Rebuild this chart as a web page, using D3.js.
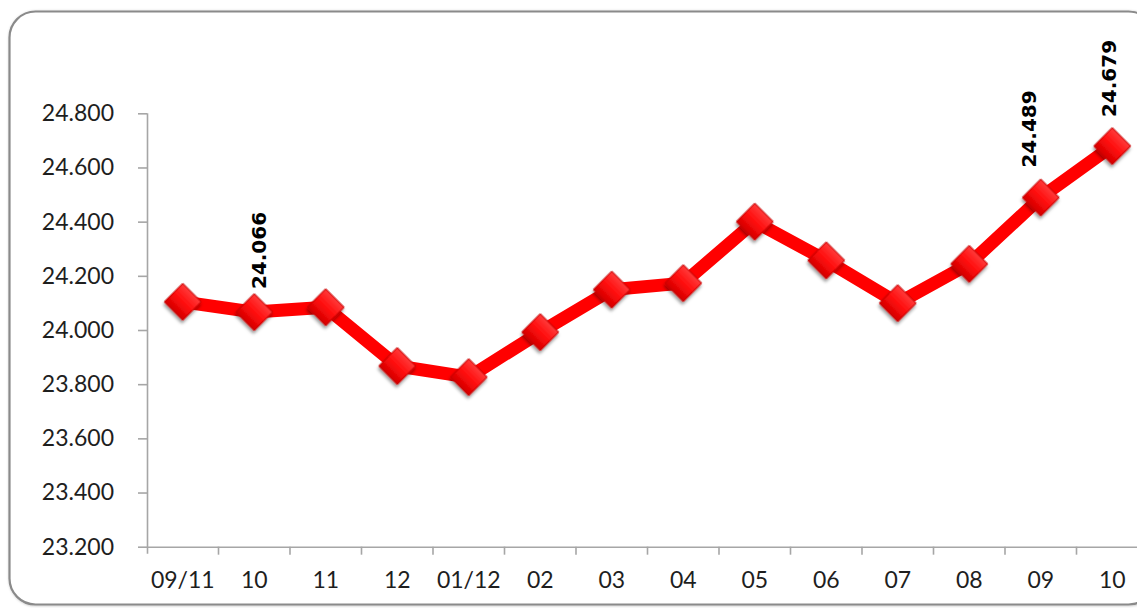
<!DOCTYPE html>
<html>
<head>
<meta charset="utf-8">
<script src="https://cdn.jsdelivr.net/npm/d3@7"></script>
<style>
  html, body { margin: 0; padding: 0; background: #ffffff; }
  svg { display: block; }
</style>
</head>
<body>
<svg id="chart" width="1137" height="608"></svg>
<script>
// ---- data ----
const categories = ["09/11", "10", "11", "12", "01/12", "02", "03", "04", "05", "06", "07", "08", "09", "10 "];
const categoryLabels = ["09/11", "10", "11", "12", "01/12", "02", "03", "04", "05", "06", "07", "08", "09", "10"];
const values = [24.104, 24.066, 24.084, 23.867, 23.826, 23.992, 24.149, 24.173, 24.400, 24.257, 24.099, 24.244, 24.489, 24.679];
const yTicks = [23.2, 23.4, 23.6, 23.8, 24.0, 24.2, 24.4, 24.6, 24.8];
const labelledIndices = [1, 12, 13];
const labelTexts = ["24.066", "24.489", "24.679"];

// ---- layout ----
const W = 1137, H = 608;
const plotLeft = 147, bandW = 71.5;
const plotTop = 113.3, plotBottom = 546.7;
const labelNudge = { 1: [5, -23], 12: [-12, -30], 13: [-3, -29] };

const svg = d3.select("#chart");
const defs = svg.append("defs");

const grad = defs.append("linearGradient").attr("id", "mk").attr("x1", 0).attr("y1", 0).attr("x2", 0).attr("y2", 1);
grad.append("stop").attr("offset", "0%").attr("stop-color", "#ff3a3a");
grad.append("stop").attr("offset", "50%").attr("stop-color", "#ff0d0d");
grad.append("stop").attr("offset", "100%").attr("stop-color", "#d40000");

const sh = defs.append("filter").attr("id", "shadow").attr("x", "-50%").attr("y", "-50%").attr("width", "200%").attr("height", "200%");
sh.append("feDropShadow").attr("dx", 1.5).attr("dy", 2.5).attr("stdDeviation", 1.8).attr("flood-color", "#000").attr("flood-opacity", 0.4);

const fsh = defs.append("filter").attr("id", "fshadow").attr("x", "-5%").attr("y", "-5%").attr("width", "110%").attr("height", "110%");
fsh.append("feDropShadow").attr("dx", 0.5).attr("dy", 0.5).attr("stdDeviation", 1).attr("flood-color", "#000").attr("flood-opacity", 0.25);

// frame (extends beyond right edge, as in the reference)
svg.append("rect")
  .attr("x", 9.5).attr("y", 11.5)
  .attr("width", 1145).attr("height", 593)
  .attr("rx", 26).attr("ry", 26)
  .attr("fill", "#ffffff")
  .attr("stroke", "#8a8a8a")
  .attr("stroke-width", 2.2)
  .attr("filter", "url(#fshadow)");

// scales
const x = d3.scaleBand().domain(categories).range([plotLeft, plotLeft + bandW * categories.length]).paddingInner(0).paddingOuter(0);
const y = d3.scaleLinear().domain([23.2, 24.8]).range([plotBottom, plotTop]);
const cx = c => x(c) + x.bandwidth() / 2;

const axisColor = "#a6a6a6";
const textColor = "#1e1e1e";
const fontFam = "Lato, 'Open Sans', sans-serif";

// y axis
const yAxis = svg.append("g").attr("transform", `translate(${plotLeft},0)`)
  .call(d3.axisLeft(y).tickValues(yTicks).tickFormat(d3.format(".3f")).tickSize(9).tickSizeOuter(0).tickPadding(24));
yAxis.select(".domain").attr("stroke", axisColor).attr("stroke-width", 1.6)
  .attr("d", `M0.5,${plotTop}V${plotBottom + 7}`);
yAxis.selectAll(".tick line").attr("stroke", axisColor).attr("stroke-width", 1.6);
yAxis.selectAll(".tick text").attr("fill", textColor).style("font-family", fontFam).style("font-size", "23px");

// x axis: labels at band centres
const xAxis = svg.append("g").attr("transform", `translate(0,${plotBottom})`)
  .call(d3.axisBottom(x).tickSize(0).tickPadding(25).tickFormat((d, i) => categoryLabels[i]));
xAxis.select(".domain").attr("stroke", axisColor).attr("stroke-width", 1.6);
xAxis.selectAll(".tick text").attr("fill", textColor).style("font-family", fontFam).style("font-size", "23px");

// x tick marks at band boundaries
svg.append("g").selectAll("line").data(categories.slice(1)).join("line")
  .attr("x1", d => x(d)).attr("x2", d => x(d))
  .attr("y1", plotBottom).attr("y2", plotBottom + 8)
  .attr("stroke", axisColor).attr("stroke-width", 1.6);

// line
const line = d3.line().x((d, i) => cx(categories[i])).y(d => y(d));
svg.append("path").datum(values)
  .attr("d", line)
  .attr("fill", "none")
  .attr("stroke", "#ff0000")
  .attr("stroke-width", 13)
  .attr("stroke-linejoin", "round");

// markers
const sym = d3.symbol().type(d3.symbolSquare).size(26 * 26);
svg.append("g").selectAll("path").data(values).join("path")
  .attr("d", sym)
  .attr("transform", (d, i) => `translate(${cx(categories[i])},${y(d)}) rotate(45)`)
  .attr("fill", "url(#mk)")
  .attr("stroke", "#c80000")
  .attr("stroke-width", 1)
  .attr("filter", "url(#shadow)");

// data labels
svg.append("g").selectAll("text").data(labelledIndices).join("text")
  .attr("transform", (idx) => {
    const n = labelNudge[idx];
    return `translate(${cx(categories[idx]) + n[0]},${y(values[idx]) + n[1]}) rotate(-90)`;
  })
  .attr("dy", "0.35em")
  .attr("text-anchor", "start")
  .attr("fill", "#000")
  .style("font-family", "'DejaVu Sans', sans-serif")
  .style("font-weight", "bold")
  .style("font-size", "20px")
  .text((idx, k) => labelTexts[k]);
</script>
</body>
</html>
